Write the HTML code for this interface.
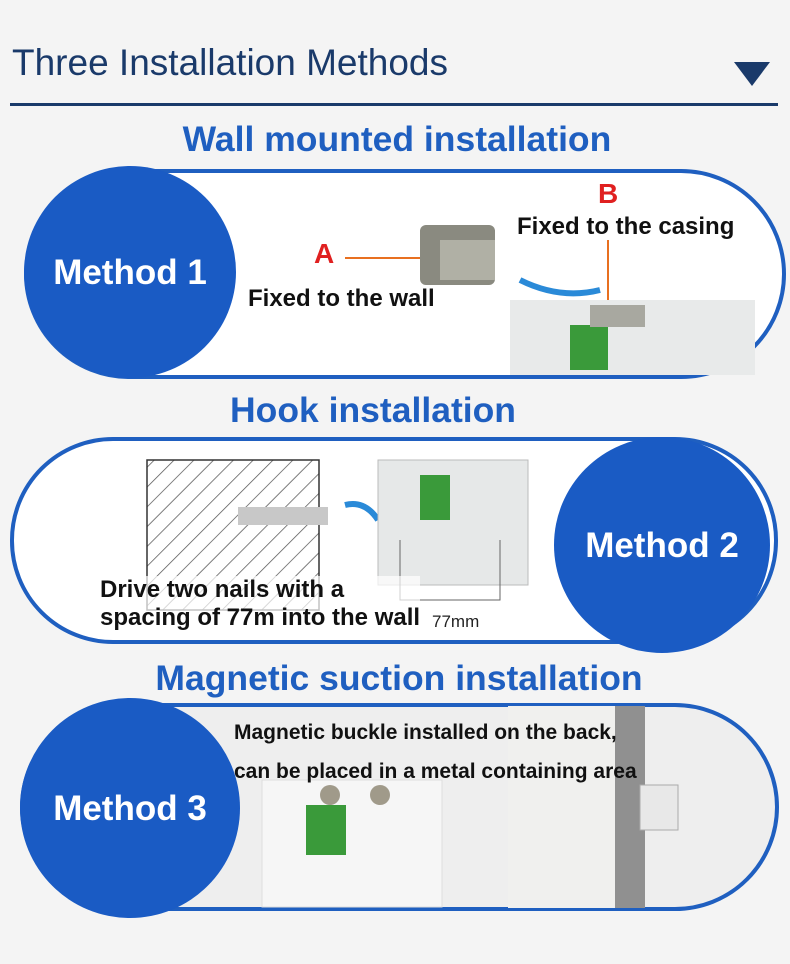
<!DOCTYPE html>
<html><head><meta charset="utf-8"><style>
body{margin:0;width:790px;height:964px;background:#f4f4f4;position:relative;overflow:hidden;font-family:"Liberation Sans","DejaVu Sans",sans-serif}
.a{position:absolute}
.t{position:absolute;color:#1f5fc0;font-weight:bold;font-size:35.5px;text-align:center;width:790px;left:0}
.m{position:absolute;color:#fff;font-weight:bold;font-size:35px;text-align:center}
.b{position:absolute;color:#111;font-weight:bold;font-size:24px}
</style></head><body>
<div class="a" style="left:12px;top:42px;font-size:37px;color:#1a3a6a">Three Installation Methods</div>
<svg class="a" style="left:0;top:0" width="790" height="964">
<polygon points="734,62 770,62 752,86" fill="#1a3a6a"/>
<rect x="10" y="103" width="768" height="3" fill="#1a3a6a"/>
<rect x="26" y="171" width="758" height="206" rx="103" fill="#fff" stroke="#1f5fc0" stroke-width="4"/>
<circle cx="130" cy="272" r="106" fill="#1a5bc4"/>
<rect x="420" y="225" width="75" height="60" rx="6" fill="#8a8a80"/>
<rect x="440" y="240" width="55" height="40" fill="#b0b0a5"/>
<line x1="345" y1="258" x2="420" y2="258" stroke="#e87020" stroke-width="2"/>
<line x1="608" y1="240" x2="608" y2="300" stroke="#e87020" stroke-width="2"/>
<path d="M520 280 Q560 300 600 290" stroke="#2a8ad8" stroke-width="6" fill="none"/>
<rect x="510" y="300" width="245" height="75" fill="#e8eaea"/>
<rect x="570" y="325" width="38" height="45" fill="#3a9a3a"/>
<rect x="590" y="305" width="55" height="22" fill="#a8a8a0"/>
<rect x="12" y="439" width="764" height="203" rx="101" fill="#fff" stroke="#1f5fc0" stroke-width="4"/>
<defs><pattern id="h" width="14" height="14" patternUnits="userSpaceOnUse" patternTransform="rotate(45)"><line x1="0" y1="0" x2="0" y2="14" stroke="#555" stroke-width="1.5"/></pattern></defs>
<rect x="147" y="460" width="172" height="150" fill="url(#h)" stroke="#333" stroke-width="1.5"/>
<rect x="238" y="507" width="90" height="18" fill="#c8c8c8"/>
<path d="M345 505 Q365 500 378 520" stroke="#2a8ad8" stroke-width="6" fill="none"/>
<rect x="378" y="460" width="150" height="125" fill="#e6e8e8" stroke="#bbb"/>
<rect x="420" y="475" width="30" height="45" fill="#3a9a3a"/>
<polyline points="400,540 400,600 500,600 500,540" stroke="#666" fill="none"/>
<circle cx="662" cy="545" r="108" fill="#1a5bc4"/>
<rect x="22" y="705" width="755" height="204" rx="102" fill="#eeeeee" stroke="#1f5fc0" stroke-width="4"/>
<rect x="262" y="780" width="180" height="127" fill="#f6f6f6" stroke="#ddd"/>
<rect x="306" y="805" width="40" height="50" fill="#3a9a3a"/>
<circle cx="330" cy="795" r="10" fill="#a09a8a"/>
<circle cx="380" cy="795" r="10" fill="#a09a8a"/>
<rect x="508" y="706" width="135" height="202" fill="#f0f0ee"/>
<rect x="615" y="706" width="30" height="202" fill="#909090"/>
<rect x="640" y="785" width="38" height="45" fill="#e8e8e8" stroke="#aaa"/>
<circle cx="130" cy="808" r="110" fill="#1a5bc4"/>
</svg>
<div class="t" style="top:119px;left:2px">Wall mounted installation</div>
<div class="m" style="left:24px;top:253px;width:212px">Method 1</div>
<div class="a" style="left:314px;top:238px;color:#e02020;font-weight:bold;font-size:28px">A</div>
<div class="a" style="left:598px;top:178px;color:#e02020;font-weight:bold;font-size:28px">B</div>
<div class="b" style="left:248px;top:285px">Fixed to the wall</div>
<div class="b" style="left:517px;top:213px">Fixed to the casing</div>
<div class="t" style="top:390px;left:-22px">Hook installation</div>
<div class="m" style="left:554px;top:526px;width:216px">Method 2</div>
<div class="b" style="left:100px;top:576px;line-height:28px;background:rgba(255,255,255,.7)">Drive two nails with a<br>spacing of 77m into the wall</div>
<div class="a" style="left:432px;top:612px;font-size:17px;color:#222">77mm</div>
<div class="t" style="top:658px;left:4px">Magnetic suction installation</div>
<div class="m" style="left:20px;top:789px;width:220px">Method 3</div>
<div class="b" style="left:234px;top:713px;font-size:21px;line-height:39px">Magnetic buckle installed on the back,<br>can be placed in a metal containing area</div>
</body></html>
